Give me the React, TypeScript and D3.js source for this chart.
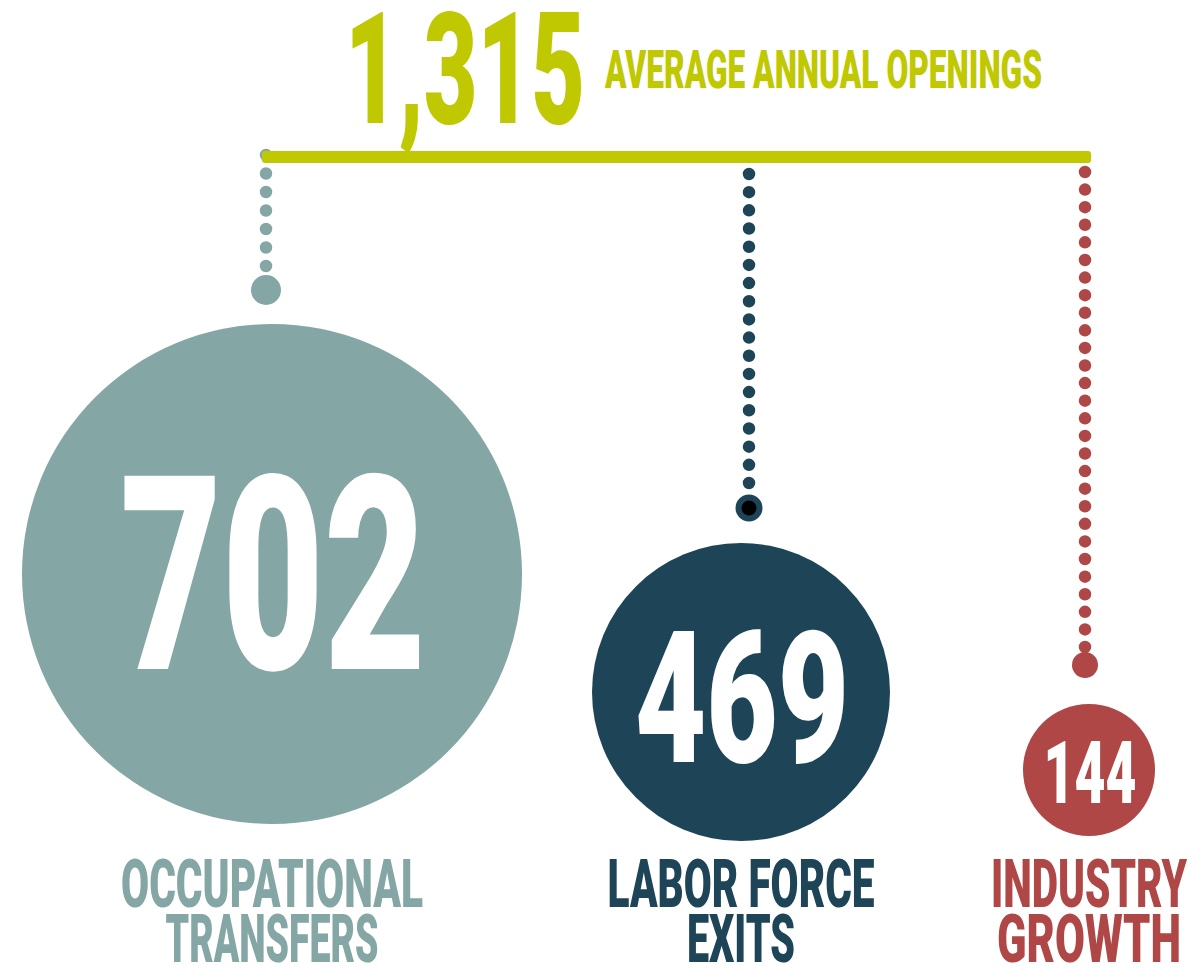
import React from "react";
import * as d3 from "d3";

// ---- data ----
const totalOpenings = 1315;
const totalLabel = "AVERAGE ANNUAL OPENINGS";
const categories = ["Occupational Transfers", "Labor Force Exits", "Industry Growth"];
const values = [702, 469, 144];
const labelLines = [
  ["OCCUPATIONAL", "TRANSFERS"],
  ["LABOR FORCE", "EXITS"],
  ["INDUSTRY", "GROWTH"],
];
const colors = ["#84A6A4", "#1E4557", "#AE4745"];
const accent = "#BFC800";

// ---- layout (styling) ----
const W = 1196;
const H = 969;
const FONT = "'Roboto', 'Liberation Sans', sans-serif";

const cx = [272, 741, 1089];
const cy = [574, 692, 770];
const dotEndY = [290, 508, 665];
const dotEndR = [15, 13.5, 13];
const lineX = [266, 749, 1085];
const firstDotY = [155, 174, 172];
const dotCounts = [7, 18, 28];
const lastDotY = [266, 483, 647];

// number text widths (ink) and baselines
const numBase = [669, 762, 803];
const numSize = [272, 183, 88];
const numWidth = [306, 214, 93];
const labelWidths = [
  [302, 213],
  [267, 108],
  [196, 184],
];

const rScale = d3.scaleLinear().domain([144, 469, 702]).range([66, 149, 250]);

const fmt = d3.format(",");

function CondText(props: {
  x: number;
  y: number;
  w: number;
  size: number;
  fill: string;
  children: string;
}) {
  const { x, y, w, size, fill, children } = props;
  return (
    <text
      x={x - w / 2}
      y={y}
      textLength={w}
      lengthAdjust="spacingAndGlyphs"
      fontSize={size}
      fontFamily={FONT}
      fontWeight={900}
      fill={fill}
    >
      {children}
    </text>
  );
}

export default function App() {
  const barY = 157;
  const barX0 = 262;
  const barX1 = 1091;
  return (
    <svg
      width={W}
      height={H}
      style={{ position: "absolute", left: 0, top: 0, background: "#fff" }}
    >
      {/* Title number */}
      <CondText x={465} y={123} w={240} size={155} fill={accent}>
        {fmt(totalOpenings)}
      </CondText>
      <CondText x={823.5} y={88} w={437} size={53} fill={accent}>
        {totalLabel}
      </CondText>

      {/* dotted connectors */}
      {values.map((v, i) => {
        const spacing = (lastDotY[i] - firstDotY[i]) / (dotCounts[i] - 1);
        return (
          <g key={"c" + i}>
            <line
              x1={lineX[i]}
              x2={lineX[i]}
              y1={firstDotY[i]}
              y2={lastDotY[i] + 0.5}
              stroke={colors[i]}
              strokeWidth={12.5}
              strokeLinecap="round"
              strokeDasharray={`0 ${spacing}`}
            />
            <circle cx={lineX[i]} cy={dotEndY[i]} r={dotEndR[i]} fill={colors[i]} />
            {i === 1 && <circle cx={lineX[i]} cy={dotEndY[i]} r={7.5} fill="#000" />}
          </g>
        );
      })}

      {/* bracket bar */}
      <rect x={barX0} y={barY - 6} width={barX1 - barX0} height={12} rx={3} fill={accent} />

      {/* circles */}
      {values.map((v, i) => (
        <g key={categories[i]}>
          <circle cx={cx[i]} cy={cy[i]} r={rScale(v)} fill={colors[i]} />
          <CondText x={cx[i] + 1} y={numBase[i]} w={numWidth[i]} size={numSize[i]} fill="#fff">
            {String(v)}
          </CondText>
          <CondText x={cx[i]} y={907} w={labelWidths[i][0]} size={66} fill={colors[i]}>
            {labelLines[i][0]}
          </CondText>
          <CondText x={cx[i]} y={962} w={labelWidths[i][1]} size={66} fill={colors[i]}>
            {labelLines[i][1]}
          </CondText>
        </g>
      ))}
    </svg>
  );
}
